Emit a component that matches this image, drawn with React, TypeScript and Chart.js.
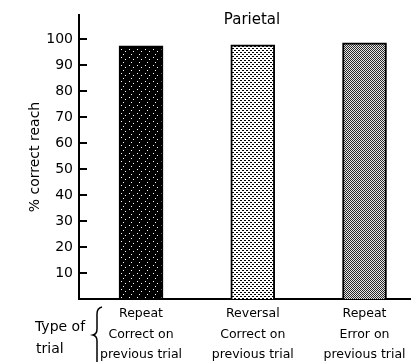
import React, { useEffect, useRef } from "react";
import { Chart, registerables } from "chart.js";

Chart.register(...registerables);

const categories: string[][] = [
  ["Repeat", "Correct on", "previous trial"],
  ["Reversal", "Correct on", "previous trial"],
  ["Repeat", "Error on", "previous trial"],
];
const values: number[] = [97.3, 97.7, 98.5];
const yTickValues: number[] = [10, 20, 30, 40, 50, 60, 70, 80, 90, 100];
const chartTitle = "Parietal";
const yTitle = "% correct reach";
const rowTitle: string[] = ["Type of", "trial"];

const FONT = "'DejaVu Sans', sans-serif";

function makePattern(size: number, bg: string, fg: string, dots: number[][]): CanvasPattern | string {
  const c = document.createElement("canvas");
  c.width = size;
  c.height = size;
  const ctx = c.getContext("2d");
  if (!ctx) return bg;
  ctx.fillStyle = bg;
  ctx.fillRect(0, 0, size, size);
  ctx.fillStyle = fg;
  dots.forEach(([x, y]) => ctx.fillRect(x, y, 1, 1));
  const p = ctx.createPattern(c, "repeat");
  return p || bg;
}

const decorations = {
  id: "decorations",
  afterDraw(chart: any) {
    const ctx = chart.ctx as CanvasRenderingContext2D;
    ctx.save();
    ctx.fillStyle = "#000";
    ctx.textBaseline = "middle";
    ctx.textAlign = "center";
    ctx.font = `15px ${FONT}`;
    ctx.fillText(chartTitle, 252, 20);
    ctx.textAlign = "left";
    ctx.font = `14px ${FONT}`;
    ctx.fillText(rowTitle[0], 35, 327);
    ctx.fillText(rowTitle[1], 36, 349);
    // brace
    ctx.strokeStyle = "#000";
    ctx.lineWidth = 1.5;
    ctx.beginPath();
    ctx.moveTo(102, 307);
    ctx.quadraticCurveTo(97, 308, 97, 314);
    ctx.lineTo(97, 329);
    ctx.quadraticCurveTo(97, 334, 93, 335);
    ctx.quadraticCurveTo(97, 336, 97, 341);
    ctx.lineTo(97, 362);
    ctx.stroke();
    ctx.restore();
  },
};

export default function App() {
  const ref = useRef<HTMLCanvasElement | null>(null);
  useEffect(() => {
    if (!ref.current) return;
    const checker: number[][] = [];
    for (let yy = 0; yy < 4; yy++) for (let xx = 0; xx < 4; xx++) if ((xx + yy) % 2 === 0) checker.push([xx, yy]);
    const fills = [
      makePattern(8, "#000", "#fff", [[1, 1], [5, 3], [3, 6]]),
      makePattern(4, "#fff", "#000", [[0, 0], [1, 0], [2, 2], [3, 2]]),
      makePattern(4, "#e6e6e6", "#2a2a2a", checker),
    ];
    const chart = new Chart(ref.current, {
      type: "bar",
      data: {
        datasets: [
          {
            data: values.map((v, i) => ({ x: i + 1, y: v })),
            backgroundColor: fills as any,
            borderColor: "#000",
            borderWidth: 2,
            barThickness: 44,
          },
        ],
      },
      options: {
        animation: false,
        responsive: true,
        maintainAspectRatio: false,
        layout: { padding: { top: 15, left: 0, right: 0, bottom: 0 } },
        plugins: { legend: { display: false }, tooltip: { enabled: false }, title: { display: false } },
        scales: {
          x: {
            type: "linear",
            min: 0.445,
            max: 3.416,
            offset: false,
            border: { display: true, color: "#000", width: 2 },
            grid: { drawOnChartArea: false, drawTicks: false },
            ticks: {
              color: "#000",
              font: { family: FONT, size: 12.5, lineHeight: 1.63 },
              padding: 5,
              maxRotation: 0,
              autoSkip: false,
              callback: (v: any) => categories[Math.round(Number(v)) - 1] ?? "",
            },
            afterBuildTicks: (s: any) => {
              s.ticks = categories.map((_, i) => ({ value: i + 1 }));
            },
            afterFit: (s: any) => {
              s.height = 63;
              s.paddingLeft = 0;
              s.paddingRight = 0;
            },
          },
          y: {
            min: 0,
            max: 109.2,
            border: { display: true, color: "#000", width: 2 },
            grid: { drawOnChartArea: false, drawTicks: true, tickLength: -8, color: "#000", lineWidth: 2 },
            ticks: { color: "#000", font: { family: FONT, size: 14 }, padding: 14 },
            afterBuildTicks: (s: any) => {
              s.ticks = yTickValues.map((v) => ({ value: v }));
            },
            afterFit: (s: any) => {
              s.width = 79;
              s.paddingTop = 0;
              s.paddingBottom = 0;
            },
            title: {
              display: true,
              text: yTitle,
              color: "#000",
              font: { family: FONT, size: 14 },
              padding: { top: 27, bottom: 0 },
            },
          },
        },
      },
      plugins: [decorations],
    });
    return () => chart.destroy();
  }, []);
  return (
    <div style={{ position: "fixed", left: 0, top: 0, width: 411, height: 362 }}>
      <canvas ref={ref} />
    </div>
  );
}
